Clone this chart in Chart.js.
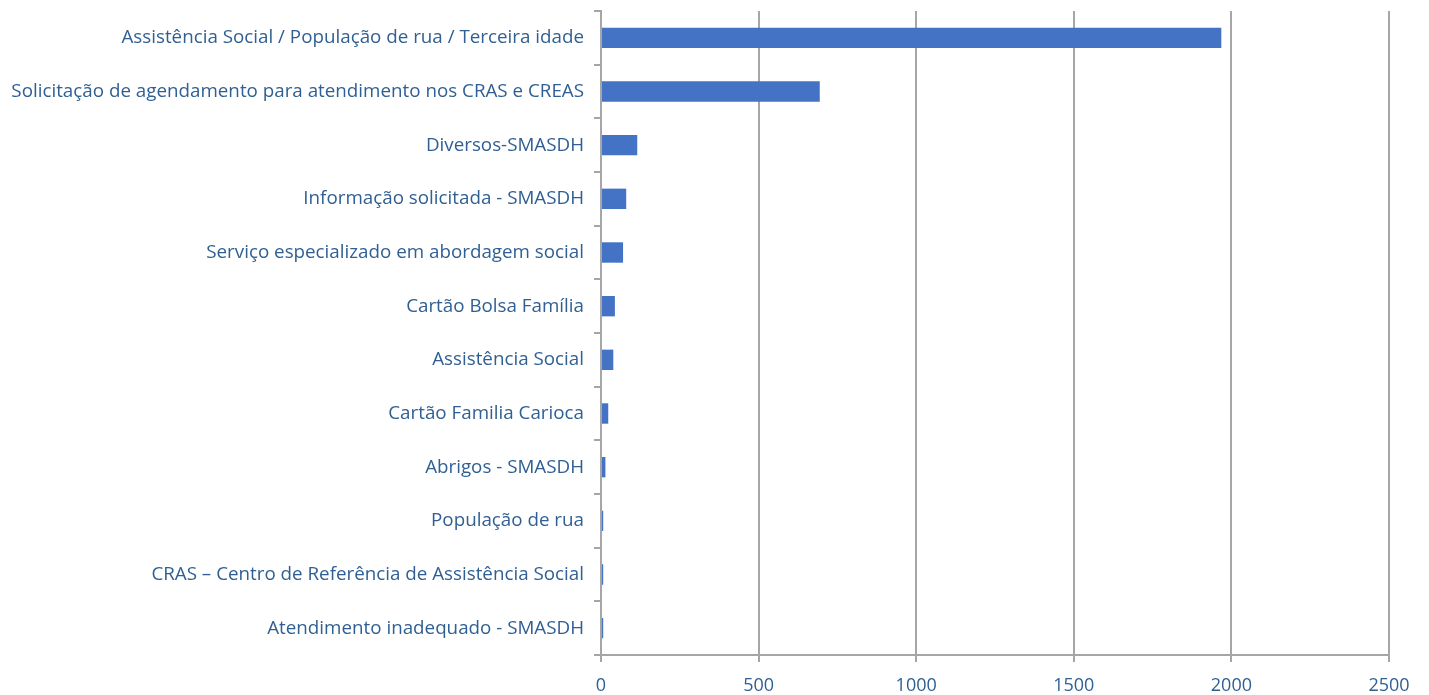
<!DOCTYPE html>
<html>
<head>
<meta charset="utf-8">
<script src="https://cdn.jsdelivr.net/npm/chart.js@4"></script>
<style>
  html, body { margin: 0; padding: 0; background: #fff; }
  #wrap { width: 1429px; height: 695px; }
</style>
</head>
<body>
<div id="wrap"><canvas id="chart"></canvas></div>
<script>
const categories = [
  "Assistência Social / População de rua / Terceira idade",
  "Solicitação de agendamento para atendimento nos CRAS e CREAS",
  "Diversos-SMASDH",
  "Informação solicitada - SMASDH",
  "Serviço especializado em abordagem social",
  "Cartão Bolsa Família",
  "Assistência Social",
  "Cartão Familia Carioca",
  "Abrigos - SMASDH",
  "População de rua",
  "CRAS – Centro de Referência de Assistência Social",
  "Atendimento inadequado - SMASDH",
];
const values = [1968, 694, 115, 80, 70, 44, 39, 23, 14, 7, 7, 7];
const xTicks = [0, 500, 1000, 1500, 2000, 2500];

const labelColor = "#2F5F93";
const gridColor = "#A6A6A6";

const ctx = document.getElementById("chart");
new Chart(ctx, {
  type: "bar",
  data: {
    labels: categories,
    datasets: [
      {
        data: values,
        backgroundColor: "#4472C4",
        categoryPercentage: 1,
        barPercentage: 0.38,
      },
    ],
  },
  options: {
    indexAxis: "y",
    responsive: true,
    maintainAspectRatio: false,
    animation: false,
    layout: { padding: { top: 11, right: 40, bottom: 0, left: 0 } },
    plugins: {
      legend: { display: false },
      tooltip: { enabled: false },
    },
    scales: {
      x: {
        min: xTicks[0],
        max: xTicks[xTicks.length - 1],
        afterBuildTicks: (scale) => {
          scale.ticks = xTicks.map((v) => ({ value: v }));
        },
        afterFit: (scale) => {
          scale.height = 40;
          scale.paddingRight = 0;
          scale.paddingLeft = 0;
        },
        grid: {
          color: gridColor,
          lineWidth: 2,
          tickLength: 7,
        },
        border: { color: gridColor, width: 2 },
        ticks: {
          color: labelColor,
          padding: 13,
          font: { family: "Open Sans", size: 18 },
          callback: (v) => String(v),
        },
      },
      y: {
        afterFit: (scale) => {
          scale.width = 601;
          scale.paddingTop = 0;
          scale.paddingBottom = 0;
        },
        grid: {
          drawOnChartArea: false,
          color: gridColor,
          lineWidth: 2,
          tickLength: 7,
        },
        border: { color: gridColor, width: 2 },
        ticks: {
          color: labelColor,
          padding: 10,
          font: { family: "Open Sans", size: 18.8 },
        },
      },
    },
  },
});
</script>
</body>
</html>
